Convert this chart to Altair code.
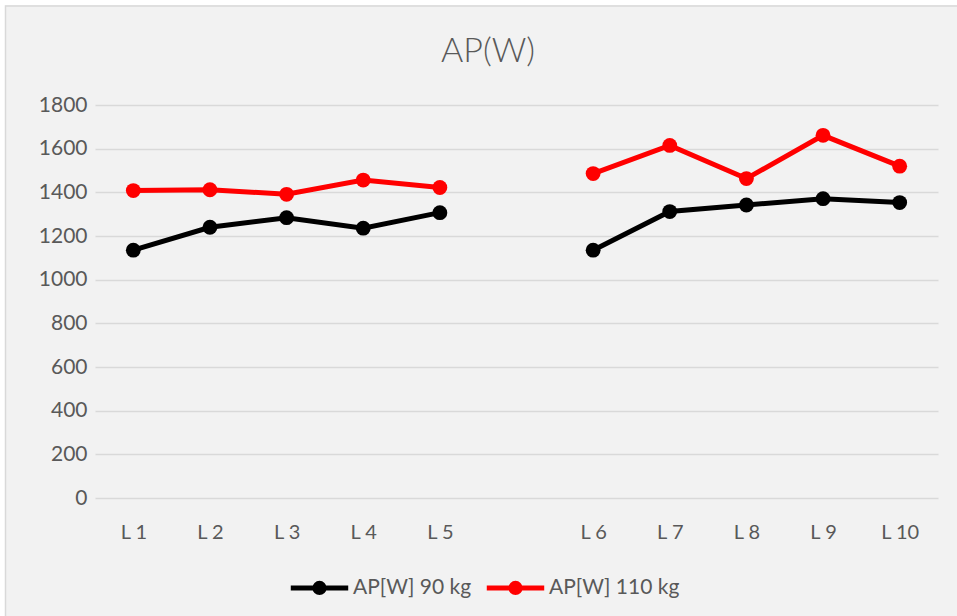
import altair as alt
import pandas as pd

levels = ["L 1", "L 2", "L 3", "L 4", "L 5", "L 6", "L 7", "L 8", "L 9", "L 10"]
x_domain = ["L 1", "L 2", "L 3", "L 4", "L 5", " ", "L 6", "L 7", "L 8", "L 9", "L 10"]
segments = [1, 1, 1, 1, 1, 2, 2, 2, 2, 2]
ap_90 = [1135, 1240, 1284, 1236, 1307, 1135, 1312, 1342, 1371, 1353]
ap_110 = [1408, 1412, 1391, 1456, 1422, 1486, 1615, 1463, 1661, 1520]
series_names = ["AP[W] 90 kg", "AP[W] 110 kg"]
series_colors = ["#000000", "#ff0000"]
y_ticks = [0, 200, 400, 600, 800, 1000, 1200, 1400, 1600, 1800]
title_text = "AP(W)"

rows = []
for name, vals in zip(series_names, [ap_90, ap_110]):
    for lv, seg, v in zip(levels, segments, vals):
        rows.append({"level": lv, "series": name, "segment": f"{name}-{seg}", "value": v})
df = pd.DataFrame(rows)

FONT = "Lato"
GREY = "#595959"

x_enc = alt.X("level:O", scale=alt.Scale(domain=x_domain, padding=0.5),
              axis=alt.Axis(title=None, labelAngle=0, ticks=False, domain=False,
                            labelPadding=24, labelFontSize=20, labelColor=GREY,
                            labelFont=FONT, grid=False))
y_enc = alt.Y("value:Q", scale=alt.Scale(domain=[0, 1800], nice=False),
              axis=alt.Axis(title=None, values=y_ticks, format="d", ticks=False, domain=False,
                            labelPadding=8, labelFontSize=21, labelColor=GREY,
                            labelFont=FONT, gridColor="#d9d9d9", gridWidth=1.5))
color_enc = alt.Color("series:N", scale=alt.Scale(domain=series_names, range=series_colors),
                      legend=alt.Legend(title=None, orient="none", direction="horizontal",
                                        legendX=193, legendY=451,
                                        symbolType="M-1,0H1M0.16,0A0.16,0.16,0,1,1,-0.16,0A0.16,0.16,0,1,1,0.16,0Z",
                                        symbolSize=3300, symbolStrokeWidth=5,
                                        labelFontSize=21, labelColor=GREY, labelFont=FONT,
                                        labelOffset=2, columnPadding=4))

lines = alt.Chart(df).mark_line(strokeWidth=5).encode(
    x=x_enc, y=y_enc, color=color_enc, detail="segment:N")
points = alt.Chart(df).mark_circle(size=220, opacity=1).encode(
    x="level:O", y="value:Q",
    color=alt.Color("series:N", legend=None, scale=alt.Scale(domain=series_names, range=series_colors)),
    detail="segment:N")

frame_df = pd.DataFrame({"k": [0]})
white_edge = alt.Chart(frame_df).mark_rect(fillOpacity=0, stroke="white", strokeWidth=12, clip=False).encode(
    x=alt.value(-96), x2=alt.value(900), y=alt.value(-106), y2=alt.value(560))
border = alt.Chart(frame_df).mark_rect(fillOpacity=0, stroke="#d9d9d9", strokeWidth=1.5, clip=False).encode(
    x=alt.value(-89.5), x2=alt.value(900), y=alt.value(-99), y2=alt.value(560))
title = alt.Chart(frame_df).mark_text(text=title_text, fontSize=34, fontWeight=300, font=FONT,
                                      color=GREY, align="center", baseline="middle").encode(
    x=alt.value(393), y=alt.value(-53))

chart = alt.layer(white_edge, border, title, lines, points).properties(
    width=843, height=393,
    autosize=alt.AutoSizeParams(type="none"),
    padding={"left": 95, "top": 105, "right": 19, "bottom": 118},
    background="#f2f2f2",
).configure_view(stroke=None)

chart.save("out.html", embed_options={"renderer": "svg", "actions": False})
